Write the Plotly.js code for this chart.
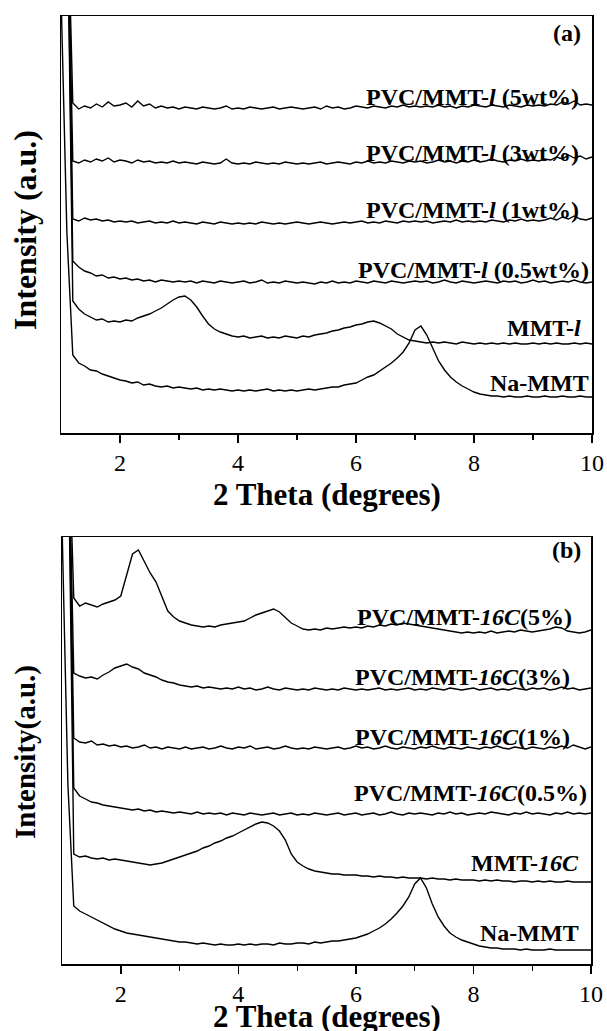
<!DOCTYPE html>
<html>
<head>
<meta charset="utf-8">
<script src="https://cdn.plot.ly/plotly-3.0.1.min.js"></script>
<style>html,body{margin:0;padding:0;background:#fff;}#chart{width:607px;height:1031px;}</style>
</head>
<body>
<div id="chart"></div>
<script>
// 2 Theta grid (degrees), shared by every pattern
const twoTheta = [1.0,
 1.1,1.2,1.3,1.4,1.5,1.6,1.7,1.8,1.9,2.0,
 2.1,2.2,2.3,2.4,2.5,2.6,2.7,2.8,2.9,3.0,
 3.1,3.2,3.3,3.4,3.5,3.6,3.7,3.8,3.9,4.0,
 4.1,4.2,4.3,4.4,4.5,4.6,4.7,4.8,4.9,5.0,
 5.1,5.2,5.3,5.4,5.5,5.6,5.7,5.8,5.9,6.0,
 6.1,6.2,6.3,6.4,6.5,6.6,6.7,6.8,6.9,7.0,
 7.1,7.2,7.3,7.4,7.5,7.6,7.7,7.8,7.9,8.0,
 8.1,8.2,8.3,8.4,8.5,8.6,8.7,8.8,8.9,9.0,
 9.1,9.2,9.3,9.4,9.5,9.6,9.7,9.8,9.9,10.0];

// Panel (a) series names and intensities (a.u., stacked offsets included)
const namesA = ["PVC/MMT-l (5wt%)","PVC/MMT-l (3wt%)","PVC/MMT-l (1wt%)","PVC/MMT-l (0.5wt%)","MMT-l","Na-MMT"];
const a_pvc5 = [1800,
 560,330,324,327,325,329,326,331,327,328,
 330,326,332,327,329,325,327,325,326,324,
 326,325,324,326,325,324,325,327,324,325,
 324,326,325,324,325,326,324,325,326,325,
 324,325,326,324,327,325,326,324,325,327,
 326,325,327,326,325,327,326,328,326,327,
 326,327,326,328,326,327,325,327,326,328,
 327,326,328,327,326,328,327,326,328,327,
 328,327,329,328,331,329,332,328,329,328];
const a_pvc3 = [1800,
 560,272,270,273,271,274,272,275,271,273,
 272,270,273,271,272,270,271,270,272,270,
 271,270,269,271,270,269,270,274,270,269,
 270,269,271,270,269,270,269,271,270,269,
 270,269,270,271,269,270,271,270,269,271,
 270,272,270,271,270,272,271,270,272,271,
 272,270,271,273,271,272,270,272,271,273,
 271,272,274,272,271,273,272,274,272,273,
 272,274,273,276,274,278,275,277,274,276];
const a_pvc1 = [1800,
 560,214,212,215,213,214,212,213,211,212,
 211,212,210,211,212,210,211,210,212,210,
 211,210,209,211,210,209,211,210,209,210,
 209,210,209,211,210,209,210,209,210,211,
 210,209,210,211,210,209,210,211,210,211,
 212,210,211,210,212,211,210,212,211,212,
 211,212,210,211,212,211,213,211,212,211,
 212,211,213,212,211,213,212,214,212,213,
 212,213,215,213,216,214,217,214,213,215];
const a_pvc05 = [1800,
 560,172,166,162,160,157,158,155,156,154,
 155,153,154,152,153,151,153,152,151,152,
 151,152,150,152,151,150,152,151,150,151,
 152,150,151,153,150,151,150,152,151,150,
 151,150,149,151,150,152,150,151,150,152,
 151,150,152,151,150,152,151,150,151,152,
 151,152,150,151,153,151,150,152,151,150,
 151,152,151,150,152,151,152,150,151,153,
 151,152,150,151,152,151,153,151,150,151];
const a_mmtl = [1800,
 560,132,124,119,116,113,114,111,112,111,
 113,112,115,117,119,122,125,129,133,136,
 137,133,126,117,109,104,101,99,97,96,
 97,95,96,97,95,96,95,97,96,95,
 97,96,98,99,100,102,103,105,106,108,
 109,111,112,110,107,104,99,96,93,92,
 91,90,91,90,91,90,89,91,90,89,
 90,89,90,89,90,89,90,89,89,90,
 89,90,89,90,89,89,90,89,90,89];
const a_namm = [440,
 200,78,70,67,63,62,59,57,55,53,
 52,50,51,48,49,47,46,47,45,46,
 45,44,45,43,44,43,44,43,42,43,
 42,43,42,43,44,42,43,42,43,42,
 43,44,43,44,45,46,46,48,49,50,
 53,56,58,62,66,70,75,81,90,103,
 107,98,85,72,63,56,51,47,44,41,
 39,38,37,37,36,37,36,36,37,36,
 36,37,36,36,37,36,36,37,36,36];

// Panel (b) series
const namesB = ["PVC/MMT-16C(5%)","PVC/MMT-16C(3%)","PVC/MMT-16C(1%)","PVC/MMT-16C(0.5%)","MMT-16C","Na-MMT"];
const b_pvc5 = [1800,
 560,366,358,361,359,357,360,362,364,368,
 388,410,414,402,391,382,368,353,347,343,
 341,339,338,337,338,337,339,340,341,342,
 343,346,349,351,353,355,352,346,341,338,
 335,334,335,334,336,335,336,337,336,337,
 336,338,337,339,338,340,339,341,340,339,
 338,337,336,335,334,333,332,331,332,331,
 332,331,333,331,332,333,332,334,333,332,
 333,334,335,337,336,333,332,331,332,334];
const b_pvc3 = [1800,
 560,291,288,286,287,285,289,292,296,298,
 300,297,295,291,289,287,284,282,281,279,
 278,277,278,276,277,276,275,276,275,277,
 275,276,274,275,277,275,274,276,275,274,
 275,274,276,275,274,275,274,276,275,274,
 275,274,275,276,274,275,274,275,276,274,
 275,274,276,275,274,276,275,274,275,276,
 274,275,276,274,275,274,276,275,274,276,
 275,276,274,275,277,275,276,274,275,276];
const b_pvc1 = [1800,
 560,226,222,221,223,219,220,218,219,217,
 218,216,217,219,216,217,215,217,216,215,
 217,215,216,217,215,216,218,216,215,217,
 216,218,215,216,217,215,216,218,216,215,
 216,215,217,216,215,216,217,215,216,218,
 216,217,215,216,218,216,215,217,216,215,
 217,216,218,216,215,217,216,215,217,216,
 215,217,216,218,216,215,217,216,215,217,
 216,215,217,216,218,216,219,217,215,217];
const b_pvc05 = [1800,
 560,176,168,165,162,161,159,158,157,156,
 155,154,155,153,154,152,153,152,151,152,
 151,150,152,150,151,150,151,149,151,150,
 149,151,150,149,150,151,149,150,151,149,
 150,149,151,150,149,150,151,149,150,151,
 149,150,151,149,150,152,150,149,151,150,
 151,150,149,151,150,152,150,151,149,150,
 151,150,152,151,150,149,151,150,152,150,
 151,150,149,151,150,152,150,151,150,151];
const b_mmt16 = [1800,
 560,110,107,108,106,105,106,104,105,104,
 103,102,101,100,99,100,101,103,105,107,
 109,111,113,116,118,121,123,126,128,131,
 134,137,140,142,141,138,133,124,110,102,
 98,95,93,92,91,90,90,89,89,89,
 88,88,87,88,87,87,86,87,86,86,
 86,85,86,85,85,84,85,84,84,84,
 83,84,83,84,83,83,82,83,83,82,
 83,82,83,82,82,83,82,82,82,82];
const b_namm = [440,
 180,58,53,50,47,44,41,38,35,33,
 31,30,29,28,27,26,25,24,23,22,
 22,21,20,21,20,19,20,19,19,20,
 19,20,19,20,20,19,21,20,20,21,
 21,20,22,21,22,23,23,24,25,26,
 28,30,33,36,40,45,51,58,67,80,
 86,76,60,47,38,31,27,24,22,20,
 18,17,16,16,15,15,15,14,15,14,
 14,14,15,14,14,14,14,14,14,14];

const tickVals = [2,4,6,8,10];
const tickText = ["2","4","6","8","10"];

const seriesA = [a_pvc5,a_pvc3,a_pvc1,a_pvc05,a_mmtl,a_namm];
const seriesB = [b_pvc5,b_pvc3,b_pvc1,b_pvc05,b_mmt16,b_namm];

const lineStyle = {color:'#000', width:1.4};
const traces = [];
seriesA.forEach((s,i)=>traces.push({x:twoTheta,y:s,type:'scatter',mode:'lines',line:lineStyle,name:namesA[i],xaxis:'x',yaxis:'y',hoverinfo:'skip'}));
seriesB.forEach((s,i)=>traces.push({x:twoTheta,y:s,type:'scatter',mode:'lines',line:lineStyle,name:namesB[i],xaxis:'x2',yaxis:'y2',hoverinfo:'skip'}));

const FONT = '"Liberation Serif", "Times New Roman", serif';
function xax(domain, anchor){
  return {domain:domain, anchor:anchor, range:[1,10], tickvals:tickVals, ticktext:tickText,
    showgrid:false, zeroline:false, showline:true, linecolor:'#000', linewidth:1.5, mirror:true,
    ticks:'outside', ticklen:8, tickwidth:1.5, tickcolor:'#000',
    minor:{tickvals:[3,5,7,9], ticks:'outside', ticklen:5, tickwidth:1.2, tickcolor:'#000'},
    tickfont:{family:FONT, size:24, color:'#000'}};
}
function yax(domain, anchor, top){
  return {domain:domain, anchor:anchor, range:[0,top], showgrid:false, zeroline:false,
    showline:true, linecolor:'#000', linewidth:1.5, mirror:true, ticks:'', showticklabels:false};
}

function lab(text, x, y, xref, yref, size){
  return {text:'<b>'+text+'</b>', x:x, y:y, xref:xref, yref:yref, xanchor:'right', yanchor:'middle',
    showarrow:false, font:{family:FONT, size:size||24, color:'#000'}};
}

const annotations = [
  lab('PVC/MMT-<i>l</i> (5wt%)', 9.81, 336, 'x', 'y'),
  lab('PVC/MMT-<i>l</i> (3wt%)', 9.81, 280, 'x', 'y'),
  lab('PVC/MMT-<i>l</i> (1wt%)', 9.81, 223, 'x', 'y'),
  lab('PVC/MMT-<i>l</i> (0.5wt%)', 9.98, 163, 'x', 'y'),
  lab('MMT-<i>l</i>', 9.85, 105, 'x', 'y'),
  lab('Na-MMT', 9.98, 50, 'x', 'y'),
  lab('(a)', 9.85, 400, 'x', 'y', 24),
  lab('PVC/MMT-<i>16C</i>(5%)', 9.71, 347, 'x2', 'y2'),
  lab('PVC/MMT-<i>16C</i>(3%)', 9.68, 287, 'x2', 'y2'),
  lab('PVC/MMT-<i>16C</i>(1%)', 9.68, 227, 'x2', 'y2'),
  lab('PVC/MMT-<i>16C</i>(0.5%)', 9.97, 171, 'x2', 'y2'),
  lab('MMT-<i>16C</i>', 9.83, 101, 'x2', 'y2'),
  lab('Na-MMT', 9.83, 31, 'x2', 'y2'),
  lab('(b)', 9.86, 414, 'x2', 'y2', 24),
  {text:'<b>2 Theta (degrees)</b>', x:327/607, y:1-494/1031, xref:'paper', yref:'paper', xanchor:'center', yanchor:'middle', showarrow:false, font:{family:FONT, size:31, color:'#000'}},
  {text:'<b>2 Theta (degrees)</b>', x:327/607, y:1-1016/1031, xref:'paper', yref:'paper', xanchor:'center', yanchor:'middle', showarrow:false, font:{family:FONT, size:31, color:'#000'}},
  {text:'<b>Intensity (a.u.)</b>', x:25/607, y:1-230/1031, xref:'paper', yref:'paper', xanchor:'center', yanchor:'middle', textangle:-90, showarrow:false, font:{family:FONT, size:32, color:'#000'}},
  {text:'<b>Intensity(a.u.)</b>', x:25/607, y:1-752/1031, xref:'paper', yref:'paper', xanchor:'center', yanchor:'middle', textangle:-90, showarrow:false, font:{family:FONT, size:29, color:'#000'}}
];

const layout = {
  width:607, height:1031, margin:{l:0,r:0,t:0,b:0},
  paper_bgcolor:'#fff', plot_bgcolor:'#fff', showlegend:false,
  xaxis: xax([61/607, 592/607], 'y'),
  yaxis: yax([1-433/1031, 1-16/1031], 'x', 417),
  xaxis2: xax([62/607, 591/607], 'y2'),
  yaxis2: yax([1-964/1031, 1-537/1031], 'x2', 427),
  annotations: annotations
};

Plotly.newPlot('chart', traces, layout, {displayModeBar:false, staticPlot:true});
</script>
</body>
</html>
